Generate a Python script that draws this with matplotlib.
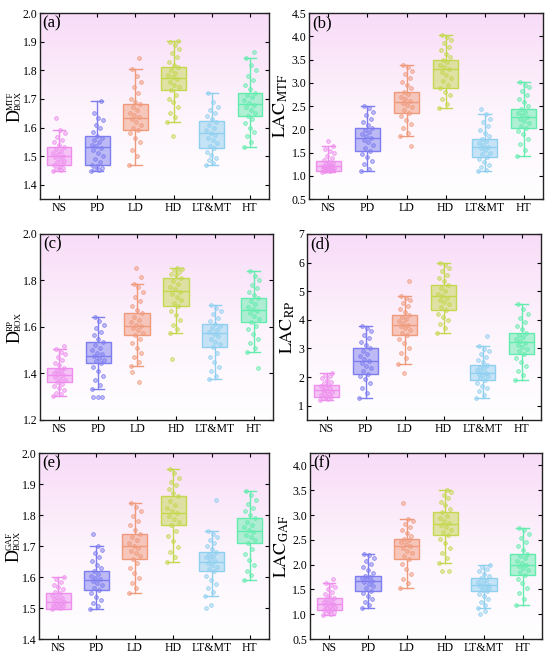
import numpy as np
import matplotlib
matplotlib.use('Agg')
from matplotlib import pyplot as plt
from matplotlib.colors import LinearSegmentedColormap
from matplotlib.transforms import IdentityTransform

plt.rcParams['font.family'] = 'serif'
plt.rcParams['font.serif'] = ['Liberation Serif', 'DejaVu Serif']
plt.rcParams['mathtext.fontset'] = 'stix'

categories = ['NS', 'PD', 'LD', 'HD', 'LT&MT', 'HT']
colors = ['#ee8fee', '#7d7df0', '#f09a7c', '#c4d84e', '#8fd0f0', '#62ecae']

panel_tags = ['(a)', '(b)', '(c)', '(d)', '(e)', '(f)']
# y label parts: base text, superscript, subscript
y_labels = [('D', 'MTF', 'BOX'), ('LAC', '', 'MTF'),
            ('D', 'RP', 'BOX'), ('LAC', '', 'RP'),
            ('D', 'GAF', 'BOX'), ('LAC', '', 'GAF')]
y_limits = [(1.35, 2.0), (0.5, 4.5), (1.2, 2.0), (0.5, 7.0), (1.4, 2.0), (0.5, 4.25)]
y_ticks = [np.arange(1.4, 2.01, 0.1), np.arange(0.5, 4.51, 0.5), np.arange(1.2, 2.01, 0.2),
           np.arange(1, 7.1, 1), np.arange(1.4, 2.01, 0.1), np.arange(0.5, 4.01, 0.5)]
y_fmt = ['%.1f', '%.1f', '%.1f', '%d', '%.1f', '%.1f']

# box statistics per panel: rows = categories, columns = whislo, q1, med, q3, whishi
box_stats = [
    [[1.449, 1.468, 1.502, 1.531, 1.591], [1.449, 1.468, 1.533, 1.572, 1.692],
     [1.468, 1.591, 1.632, 1.683, 1.804], [1.620, 1.731, 1.773, 1.813, 1.904],
     [1.468, 1.529, 1.581, 1.621, 1.722], [1.531, 1.640, 1.683, 1.722, 1.844]],
    [[1.09, 1.095, 1.20, 1.317, 1.633], [1.095, 1.525, 1.81, 2.027, 2.507],
     [1.85, 2.35, 2.593, 2.794, 3.38], [2.45, 2.887, 3.296, 3.48, 4.02],
     [1.095, 1.40, 1.61, 1.79, 2.33], [1.42, 2.027, 2.26, 2.435, 3.02]],
    [[1.305, 1.363, 1.395, 1.424, 1.504], [1.333, 1.444, 1.475, 1.534, 1.643],
     [1.434, 1.564, 1.604, 1.659, 1.783], [1.573, 1.692, 1.755, 1.812, 1.855],
     [1.375, 1.513, 1.573, 1.613, 1.693], [1.494, 1.623, 1.675, 1.723, 1.842]],
    [[1.20, 1.32, 1.56, 1.73, 2.13], [1.26, 2.11, 2.56, 3.01, 3.77],
     [2.46, 3.46, 3.82, 4.18, 4.82], [3.54, 4.36, 4.82, 5.23, 6.0],
     [1.26, 1.91, 2.13, 2.43, 3.07], [1.91, 2.81, 3.22, 3.55, 4.54]],
    [[1.498, 1.498, 1.519, 1.549, 1.60], [1.498, 1.559, 1.589, 1.618, 1.70],
     [1.549, 1.657, 1.699, 1.738, 1.838], [1.65, 1.768, 1.808, 1.86, 1.95],
     [1.539, 1.618, 1.65, 1.68, 1.748], [1.59, 1.709, 1.748, 1.789, 1.879]],
    [[0.99, 1.09, 1.21, 1.33, 1.63], [1.12, 1.47, 1.67, 1.78, 2.22],
     [1.53, 2.12, 2.37, 2.52, 2.91], [2.04, 2.60, 2.81, 3.06, 3.51],
     [1.13, 1.46, 1.59, 1.73, 2.0], [1.19, 1.80, 2.0, 2.22, 2.74]],
]

# sample points per panel and category
points = [
    ["1.449 1.452 1.455 1.46 1.463 1.468 1.472 1.478 1.484 1.49 1.496 1.502 1.507 1.512 1.518 1.524 1.531 1.54 1.55 1.558 1.568 1.58 1.591 1.632",
     "1.449 1.451 1.455 1.46 1.466 1.47 1.48 1.49 1.5 1.51 1.52 1.528 1.535 1.54 1.548 1.556 1.565 1.572 1.585 1.6 1.61 1.625 1.632 1.65 1.692",
     "1.468 1.5 1.52 1.55 1.565 1.58 1.592 1.6 1.61 1.62 1.628 1.635 1.642 1.65 1.66 1.67 1.682 1.69 1.7 1.72 1.74 1.76 1.78 1.804 1.844",
     "1.62 1.635 1.65 1.67 1.69 1.7 1.715 1.73 1.74 1.75 1.76 1.768 1.775 1.782 1.79 1.8 1.81 1.82 1.83 1.845 1.86 1.875 1.89 1.9 1.904 1.572",
     "1.468 1.475 1.485 1.495 1.505 1.515 1.528 1.537 1.545 1.555 1.565 1.575 1.582 1.59 1.6 1.61 1.62 1.63 1.64 1.65 1.66 1.67 1.69 1.722",
     "1.531 1.55 1.57 1.585 1.6 1.615 1.63 1.64 1.65 1.66 1.67 1.678 1.686 1.695 1.705 1.715 1.722 1.735 1.75 1.765 1.78 1.8 1.82 1.844 1.865"],
    ["1.09 1.1 1.11 1.12 1.13 1.14 1.15 1.16 1.17 1.18 1.19 1.2 1.21 1.22 1.24 1.26 1.28 1.3 1.33 1.38 1.43 1.48 1.53 1.58 1.633 1.75",
     "1.095 1.15 1.25 1.32 1.4 1.47 1.53 1.6 1.67 1.73 1.78 1.82 1.86 1.9 1.95 1.99 2.03 2.1 2.16 2.22 2.3 2.38 2.45 2.507",
     "1.85 1.93 2.02 2.12 2.2 2.28 2.35 2.42 2.47 2.52 2.57 2.61 2.65 2.7 2.75 2.8 2.88 2.95 3.02 3.1 3.18 3.26 3.33 3.38 1.647",
     "2.45 2.55 2.65 2.73 2.8 2.89 2.96 3.03 3.1 3.17 3.23 3.29 3.34 3.39 3.44 3.48 3.56 3.63 3.7 3.78 3.85 3.92 3.98 4.02",
     "1.095 1.13 1.18 1.24 1.3 1.36 1.41 1.46 1.5 1.55 1.59 1.62 1.66 1.7 1.75 1.79 1.85 1.92 1.99 2.07 2.15 2.23 2.33 2.44",
     "1.42 1.55 1.68 1.8 1.9 1.97 2.03 2.08 2.13 2.18 2.22 2.26 2.3 2.34 2.38 2.43 2.5 2.58 2.66 2.74 2.82 2.9 2.96 3.02"],
    ["1.305 1.31 1.318 1.327 1.336 1.345 1.355 1.363 1.37 1.378 1.385 1.392 1.398 1.404 1.41 1.417 1.424 1.435 1.446 1.458 1.47 1.482 1.494 1.504 1.52",
     "1.333 1.35 1.37 1.39 1.41 1.43 1.444 1.452 1.46 1.468 1.475 1.482 1.49 1.5 1.51 1.522 1.534 1.55 1.565 1.58 1.595 1.61 1.625 1.643 1.3 1.3 1.3",
     "1.434 1.45 1.47 1.49 1.51 1.53 1.55 1.565 1.575 1.585 1.595 1.603 1.61 1.62 1.63 1.645 1.659 1.675 1.69 1.71 1.73 1.75 1.77 1.783 1.816 1.852 1.405 1.365",
     "1.573 1.59 1.61 1.63 1.65 1.67 1.692 1.705 1.718 1.73 1.742 1.752 1.762 1.772 1.783 1.797 1.812 1.822 1.83 1.838 1.845 1.85 1.855 1.462",
     "1.375 1.39 1.41 1.43 1.45 1.47 1.49 1.513 1.525 1.537 1.55 1.56 1.57 1.578 1.586 1.595 1.605 1.613 1.625 1.64 1.655 1.668 1.68 1.693",
     "1.494 1.51 1.53 1.55 1.57 1.59 1.605 1.623 1.635 1.647 1.658 1.668 1.678 1.688 1.698 1.71 1.723 1.737 1.752 1.767 1.782 1.8 1.82 1.842 1.424"],
    ["1.2 1.23 1.26 1.29 1.32 1.36 1.4 1.44 1.48 1.52 1.56 1.6 1.64 1.68 1.73 1.78 1.84 1.9 1.96 2.02 2.08 2.13",
     "1.26 1.45 1.62 1.78 1.92 2.03 2.11 2.2 2.3 2.4 2.48 2.56 2.64 2.72 2.82 2.92 3.01 3.12 3.24 3.36 3.48 3.6 3.7 3.77",
     "2.46 2.65 2.85 3.02 3.18 3.32 3.46 3.55 3.63 3.7 3.77 3.83 3.89 3.95 4.02 4.1 4.18 4.28 4.38 4.48 4.58 4.68 4.76 4.82 5.34 2.15",
     "3.54 3.7 3.85 3.98 4.1 4.22 4.36 4.45 4.54 4.62 4.7 4.77 4.84 4.92 5.0 5.1 5.23 5.35 5.47 5.58 5.7 5.8 5.92 6.0",
     "1.26 1.38 1.5 1.6 1.7 1.8 1.91 1.97 2.02 2.07 2.11 2.15 2.19 2.24 2.3 2.36 2.43 2.52 2.6 2.7 2.8 2.9 2.99 3.07 3.43",
     "1.91 2.06 2.22 2.38 2.52 2.66 2.81 2.9 2.98 3.05 3.12 3.19 3.26 3.33 3.4 3.47 3.55 3.67 3.8 3.93 4.06 4.2 4.38 4.54"],
    ["1.498 1.5 1.502 1.505 1.508 1.511 1.514 1.517 1.52 1.524 1.528 1.532 1.537 1.542 1.548 1.553 1.56 1.567 1.575 1.583 1.592 1.6",
     "1.498 1.505 1.515 1.525 1.535 1.547 1.559 1.566 1.573 1.58 1.586 1.592 1.598 1.604 1.61 1.618 1.628 1.64 1.652 1.664 1.676 1.688 1.7 1.738",
     "1.549 1.565 1.58 1.597 1.613 1.63 1.645 1.657 1.667 1.676 1.685 1.693 1.701 1.709 1.718 1.728 1.738 1.752 1.767 1.782 1.797 1.812 1.826 1.838",
     "1.65 1.665 1.68 1.697 1.715 1.732 1.75 1.768 1.778 1.788 1.797 1.805 1.813 1.822 1.832 1.845 1.86 1.872 1.884 1.896 1.908 1.92 1.935 1.95",
     "1.539 1.552 1.565 1.578 1.591 1.604 1.618 1.625 1.632 1.639 1.645 1.651 1.657 1.663 1.669 1.675 1.68 1.69 1.7 1.71 1.72 1.73 1.74 1.748 1.849 1.509 1.5",
     "1.59 1.605 1.62 1.638 1.656 1.674 1.692 1.709 1.719 1.728 1.737 1.745 1.752 1.76 1.769 1.779 1.789 1.8 1.812 1.824 1.836 1.848 1.864 1.879"],
    ["0.99 1.01 1.03 1.05 1.07 1.09 1.11 1.13 1.15 1.17 1.19 1.21 1.23 1.25 1.27 1.3 1.33 1.37 1.41 1.45 1.5 1.55 1.59 1.63 1.71",
     "1.12 1.18 1.24 1.3 1.36 1.42 1.47 1.52 1.56 1.6 1.64 1.67 1.7 1.73 1.76 1.78 1.84 1.9 1.96 2.02 2.08 2.14 2.19 2.22",
     "1.53 1.62 1.72 1.82 1.92 2.02 2.12 2.18 2.23 2.28 2.33 2.37 2.41 2.45 2.49 2.52 2.58 2.64 2.7 2.76 2.82 2.87 2.91 3.24",
     "2.04 2.14 2.24 2.34 2.44 2.52 2.6 2.65 2.7 2.75 2.79 2.83 2.88 2.93 2.99 3.06 3.13 3.2 3.27 3.34 3.41 3.47 3.51 1.87 1.87",
     "1.13 1.19 1.25 1.31 1.36 1.41 1.46 1.49 1.52 1.55 1.57 1.59 1.62 1.65 1.69 1.73 1.77 1.82 1.87 1.92 1.96 2.0 1.06 1.0",
     "1.19 1.3 1.42 1.53 1.62 1.71 1.8 1.85 1.89 1.93 1.97 2.0 2.04 2.08 2.13 2.17 2.22 2.3 2.38 2.46 2.54 2.62 2.69 2.74"],
]

axes_rects = [
    [0.0727, 0.6966, 0.4164, 0.2835], [0.5618, 0.6966, 0.4255, 0.2835],
    [0.0727, 0.3598, 0.4236, 0.2835], [0.5582, 0.3598, 0.4255, 0.2835],
    [0.0709, 0.0259, 0.4182, 0.2835], [0.5636, 0.0259, 0.4218, 0.2835],
]

bg_cmap = LinearSegmentedColormap.from_list('bg', ['#ffffff', '#fdf3fc', '#f8dcf8'])
gradient = np.linspace(0, 1, 256).reshape(-1, 1)


def stacked_label(fig, ax, base, sup, sub):
    # D with superscript and subscript stacked on top of each other, rotated 90 deg
    renderer = fig.canvas.get_renderer()
    bb = ax.get_window_extent(renderer)
    ident = IdentityTransform()
    t_base = fig.text(0, 0, base, rotation=90, fontsize=13, ha='center', va='bottom', transform=ident)
    t_sup = fig.text(0, 0, sup, rotation=90, fontsize=6.5, ha='center', va='bottom', transform=ident)
    t_sub = fig.text(0, 0, sub, rotation=90, fontsize=6.5, ha='center', va='bottom', transform=ident)
    h_base = t_base.get_window_extent(renderer).height
    h_scr = max(t_sup.get_window_extent(renderer).height, t_sub.get_window_extent(renderer).height)
    total = h_base + h_scr
    y0 = (bb.y0 + bb.y1) / 2 - total / 2
    t_base.set_position((bb.x0 - 25, y0))
    t_sup.set_position((bb.x0 - 29.5, y0 + h_base - 1))
    t_sub.set_position((bb.x0 - 21, y0 + h_base - 1))


def draw_panel(fig, ax, k):
    ax.imshow(gradient, cmap=bg_cmap, origin='lower', aspect='auto',
              extent=[0, 1, 0, 1], transform=ax.transAxes, zorder=0)
    positions = np.arange(1, len(categories) + 1)
    for i, (stat, color) in enumerate(zip(box_stats[k], colors)):
        lo, q1, med, q3, hi = stat
        st = dict(whislo=lo, q1=q1, med=med, q3=q3, whishi=hi, fliers=[])
        ax.bxp([st], positions=[positions[i]], widths=0.65, capwidths=0.32,
               patch_artist=True, showfliers=False,
               boxprops=dict(facecolor=matplotlib.colors.to_rgba(color, 0.5), edgecolor=color, linewidth=1.0),
               medianprops=dict(color=color, linewidth=1.0),
               whiskerprops=dict(color=color, linewidth=1.0),
               capprops=dict(color=color, linewidth=1.0), zorder=2)
        vals = np.array(points[k][i].split(), dtype=float)
        n = len(vals)
        offsets = ((np.arange(n) * 0.618034) % 1.0 - 0.5) * 0.32
        ax.scatter(positions[i] + offsets, vals, s=7,
                   facecolors=matplotlib.colors.to_rgba(color, 0.45),
                   edgecolors=matplotlib.colors.to_rgba(color, 0.9), linewidths=0.6, zorder=3)
    ax.set_xlim(0.5, len(categories) + 0.5)
    ax.set_ylim(*y_limits[k])
    ax.set_xticks(positions)
    ax.set_xticklabels(categories)
    ax.set_yticks(y_ticks[k])
    ax.set_yticklabels([y_fmt[k] % v for v in y_ticks[k]])
    ax.tick_params(direction='in', top=True, right=True, labelsize=8.5, length=3, width=0.8, pad=2)
    for sp in ax.spines.values():
        sp.set_linewidth(1.0)
        sp.set_color('#222222')
    base, sup, sub = y_labels[k]
    if sup:
        stacked_label(fig, ax, base, sup, sub)
    else:
        ax.set_ylabel(r'$\mathrm{%s}_{\mathrm{%s}}$' % (base, sub), fontsize=13, labelpad=1)
    ax.text(0.012, 0.985, panel_tags[k], transform=ax.transAxes, fontsize=12,
            va='top', ha='left', zorder=5)


fig = plt.figure(figsize=(5.5, 6.56), dpi=100)
for k, rect in enumerate(axes_rects):
    ax = fig.add_axes(rect)
    draw_panel(fig, ax, k)

fig.savefig('out.png', dpi=100)
